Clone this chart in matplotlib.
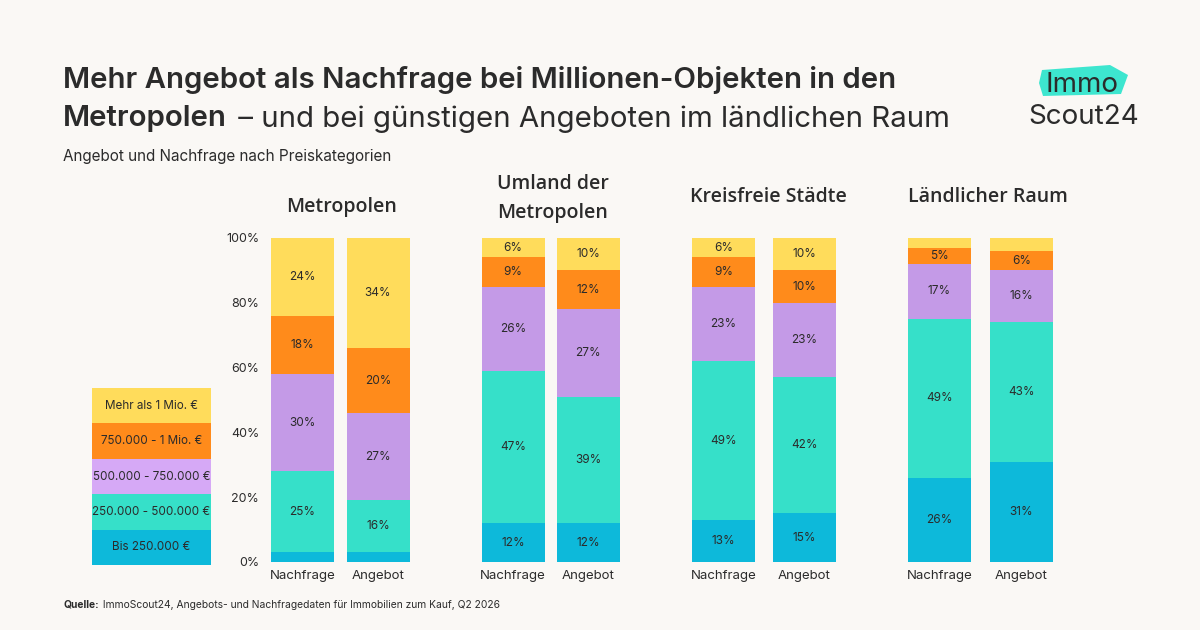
import matplotlib
matplotlib.use("Agg")
import matplotlib.pyplot as plt
from matplotlib.patches import Polygon

FONT = ["Inter", "DejaVu Sans"]
TFONT = ["Open Sans", "DejaVu Sans"]
plt.rcParams["font.family"] = FONT

# ---- data ----
categories = ["Bis 250.000 €", "250.000 - 500.000 €", "500.000 - 750.000 €",
              "750.000 - 1 Mio. €", "Mehr als 1 Mio. €"]
regions = ["Metropolen", "Umland der\nMetropolen", "Kreisfreie Städte", "Ländlicher Raum"]
bar_labels = ["Nachfrage", "Angebot"]
# values per region: [Nachfrage, Angebot], each bottom->top in category order
metropolen = [[3, 25, 30, 18, 24], [3, 16, 27, 20, 34]]
umland = [[12, 47, 26, 9, 6], [12, 39, 27, 12, 10]]
kreisfreie = [[13, 49, 23, 9, 6], [15, 42, 23, 10, 10]]
laendlich = [[26, 49, 17, 5, 3], [31, 43, 16, 6, 4]]
y_ticks = [0, 20, 40, 60, 80, 100]

colors = ["#0DB9DA", "#36E0C9", "#C49AE7", "#FF8B1B", "#FFDC5B"]
legend_colors = ["#0DB9DA", "#36E0C9", "#D6A9F6", "#FF8B1B", "#FFDC5B"]
BG = "#FAF8F5"
TXT = "#2B2B2B"

W, H = 1200, 630
fig = plt.figure(figsize=(12, 6.3), dpi=100, facecolor=BG)

def fx(x): return x / W
def fy(y): return 1 - y / H

# ---- bar groups ----
groups = [
    (metropolen, 302.5, 75.5, 342, [207]),
    (umland, 513, 75, 553, [184, 213]),
    (kreisfreie, 723.5, 80.5, 768, [197]),
    (laendlich, 939.5, 82, 988, [197]),
]
y0_px, y100_px = 562, 238
for gi, (data, c0, s, tx, tys) in enumerate(groups):
    left = c0 - 0.5 * s
    ax = fig.add_axes([fx(left), fy(y0_px), 2 * s / W, (y0_px - y100_px) / H])
    ax.set_facecolor("none")
    width = 63 / s
    for bi, vals in enumerate(data):
        bottom = 0
        for ci, v in enumerate(vals):
            ax.bar(bi, v, bottom=bottom, width=width, color=colors[ci], linewidth=0)
            if v >= 5:
                ax.text(bi, bottom + v / 2, f"{v}%", ha="center", va="center",
                        fontsize=8.5, color=TXT)
            bottom += v
    ax.set_xlim(-0.5, 1.5)
    ax.set_ylim(0, 100)
    ax.set_xticks([0, 1])
    ax.set_xticklabels(bar_labels, fontsize=9.5, color=TXT)
    ax.tick_params(axis="x", length=0, pad=6)
    for sp in ax.spines.values():
        sp.set_visible(False)
    if gi == 0:
        ax.set_yticks(y_ticks)
        ax.set_yticklabels([f"{t}%" for t in y_ticks], fontsize=9, color=TXT)
        ax.tick_params(axis="y", length=0, pad=4)
    else:
        ax.set_yticks([])
    # region title
    for line, ty in zip(regions[gi].split("\n"), tys):
        fig.text(fx(tx), fy(ty), line, ha="center", va="center", fontsize=14,
                 fontweight="semibold", family=TFONT, color=TXT)

# ---- legend block ----
lax = fig.add_axes([fx(92), fy(565), (211 - 92) / W, (565 - 388) / H])
lax.set_facecolor("none")
lax.set_xlim(0, 1)
lax.set_ylim(0, len(categories))
for i, (cat, col) in enumerate(zip(categories, legend_colors)):
    lax.bar(0.5, 1, bottom=i, width=1, color=col, linewidth=0)
    lax.text(0.5, i + 0.5, cat, ha="center", va="center", fontsize=8.4, color=TXT)
lax.axis("off")

# ---- titles ----
TS = 21.2
fig.text(fx(63), fy(80), "Mehr Angebot als Nachfrage bei Millionen-Objekten in den",
         fontsize=TS, fontweight="semibold", color=TXT, va="center", ha="left")
t_bold = fig.text(fx(63), fy(119), "Metropolen", fontsize=TS, fontweight="semibold",
                  color=TXT, va="center", ha="left")
fig.canvas.draw()
bb = t_bold.get_window_extent()
fig.text((bb.x1 + 3) / W, fy(119), " – und bei günstigen Angeboten im ländlichen Raum",
         fontsize=TS, color=TXT, va="center", ha="left")
fig.text(fx(63), fy(157), "Angebot und Nachfrage nach Preiskategorien", fontsize=11,
         color=TXT, va="center", ha="left")

q = fig.text(fx(63), fy(605), "Quelle:", fontsize=7.4, fontweight="bold", color=TXT,
             va="center", ha="left")
fig.canvas.draw()
qb = q.get_window_extent()
fig.text((qb.x1 + 1) / W, fy(605),
         " ImmoScout24, Angebots- und Nachfragedaten für Immobilien zum Kauf, Q2 2026",
         fontsize=7.4, color=TXT, va="center", ha="left")

# ---- logo ----
poly_px = [(1042, 70), (1110, 65), (1128, 75), (1121, 94), (1043, 96), (1039, 83)]
fig.patches.append(Polygon([(fx(x), fy(y)) for x, y in poly_px], closed=True,
                           transform=fig.transFigure, facecolor="#3DE6CF",
                           edgecolor="none", zorder=0))
fig.text(fx(1082), fy(85), "Immo", fontsize=20, color=TXT, ha="center", va="center")
fig.text(fx(1084), fy(117), "Scout24", fontsize=20, color=TXT, ha="center", va="center")

fig.savefig("out.png", dpi=100, facecolor=BG)
